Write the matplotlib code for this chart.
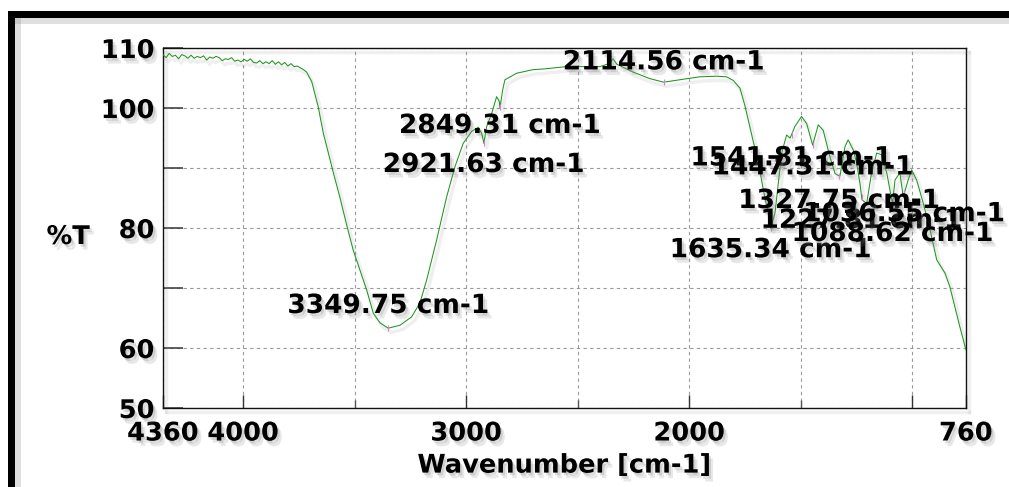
import matplotlib.pyplot as plt
import matplotlib.patheffects as pe
from matplotlib.patches import Rectangle
import numpy as np

# spectrum: wavenumber [cm-1] and %T
wn = [4360, 4346, 4332, 4318, 4304, 4290, 4276, 4262, 4248, 4234, 4220, 4206,
      4192, 4178, 4164, 4150, 4136, 4122, 4108, 4094, 4080, 4066, 4052, 4038,
      4024, 4010, 3996, 3982, 3968, 3954, 3940, 3926, 3912, 3898, 3884, 3870,
      3856, 3842, 3828, 3814, 3800, 3786, 3772, 3758, 3744, 3730,
      3716, 3693, 3664, 3641, 3596, 3566, 3537, 3507, 3477, 3447, 3417, 3387,
      3350, 3297, 3245, 3208, 3178, 3133, 3088, 3051, 3014, 2976, 2946, 2931,
      2921, 2909, 2886, 2864, 2852, 2849, 2837, 2827, 2774, 2700, 2656, 2550,
      2401, 2360, 2342, 2325, 2253, 2177, 2115, 2027, 1953, 1878, 1833, 1803,
      1773, 1751, 1736, 1714, 1691, 1669, 1646, 1635, 1616, 1601, 1586, 1564,
      1548, 1527, 1497, 1474, 1447, 1422, 1400, 1370, 1347, 1325, 1302, 1288,
      1265, 1250, 1235, 1226, 1205, 1183, 1160, 1138, 1115, 1089, 1078, 1056,
      1041, 1019, 1003, 981, 951, 921, 891, 854, 832, 809, 787, 760]
trans = [108.9, 108.4, 109.1, 108.6, 108.8, 108.2, 108.9, 108.7, 108.3, 108.8, 108.3, 108.6,
         108.4, 108.7, 108.0, 108.5, 108.3, 108.6, 108.4, 107.9, 108.2, 108.1, 108.4, 107.8,
         108.0, 107.7, 108.1, 107.8, 108.2, 107.6, 107.5, 107.9, 107.4, 107.7, 107.4, 107.9,
         107.3, 107.7, 107.2, 107.6, 107.0, 107.4, 106.9, 107.0, 106.7, 106.4,
         106.0, 104.4, 100.2, 95.8, 89.2, 85.0, 80.6, 76.3, 73.0, 69.7, 65.8, 64.2,
         63.3, 63.8, 65.2, 67.5, 71.3, 78.0, 85.2, 90.2, 94.1, 96.1, 96.8, 95.8,
         94.1, 96.9, 99.1, 101.9, 101.1, 100.0, 103.0, 104.7, 105.8, 106.4, 106.5, 106.9,
         106.9, 107.4, 108.2, 107.3, 106.0, 104.9, 104.3, 104.8, 105.2, 105.3, 105.2, 104.6,
         103.3, 100.4, 98.0, 94.5, 91.0, 86.5, 82.3, 80.0, 82.5, 87.5, 92.5, 95.5,
         95.0, 96.9, 98.6, 97.4, 93.8, 97.2, 96.3, 91.9, 89.1, 88.6, 93.6, 94.7,
         93.0, 90.8, 87.4, 84.7, 84.1, 89.2, 92.5, 92.2, 89.2, 84.0, 88.0, 89.2,
         85.2, 88.0, 89.7, 88.0, 84.1, 79.7, 74.7, 72.5, 70.2, 66.8, 63.5, 59.7]

# picked peaks and where their labels sit (%T of the label centre)
peak_wn = [3349.75, 2921.63, 2849.31, 2114.56, 1635.34, 1541.81, 1447.31,
           1327.75, 1227.81, 1036.55, 1088.62]
label_t = [67.0, 90.5, 97.0, 107.6, 76.3, 91.6, 90.1, 84.5, 81.2, 82.3, 79.0]

x_ticks = [4360, 4000, 3000, 2000, 1000, 760]
x_ticklabels = ['4360', '4000', '3000', '2000', '', '760']
y_ticks = [50, 60, 70, 80, 90, 100, 110]
y_ticklabels = ['50', '60', '', '80', '', '100', '110']

plt.rcParams['font.family'] = 'DejaVu Sans'
plt.rcParams['font.weight'] = 'bold'

shadow = [pe.SimplePatchShadow(offset=(3, -4), shadow_rgbFace='0.5', alpha=0.18),
          pe.SimplePatchShadow(offset=(1.5, -2), shadow_rgbFace='0.5', alpha=0.25),
          pe.Normal()]
line_shadow = [pe.SimpleLineShadow(offset=(2, -3), shadow_color='0.5', alpha=0.12, linewidth=2.5),
               pe.Normal()]

fig = plt.figure(figsize=(10.09, 4.87), dpi=100)
ax = fig.add_axes([0.1615, 0.1622, 0.7958, 0.7392])

ax.plot(wn, trans, color='#1e961e', lw=0.75, path_effects=line_shadow, zorder=3)
mk_t = np.interp(peak_wn, wn[::-1], trans[::-1])
ax.plot(peak_wn, mk_t, ls='none', marker='|', ms=4, mew=0.8, color='#e07be0', zorder=4)

for w, t in zip(peak_wn, label_t):
    ax.text(w, t, f'{w:.2f} cm-1', ha='center', va='center', fontsize=19,
            fontweight='bold', color='black', path_effects=shadow, zorder=5)

ax.set_xlim(4360, 760)
ax.set_ylim(50, 110)
ax.set_xticks(x_ticks)
ax.set_xticklabels(x_ticklabels)
ax.set_xticks([3500, 2500, 1500], minor=True)
ax.set_yticks(y_ticks)
ax.set_yticklabels(y_ticklabels)

ax.tick_params(axis='x', which='major', direction='in', length=9.5, width=1,
               color='#333333', labelsize=18.5, pad=9)
ax.tick_params(axis='x', which='minor', direction='in', length=6, width=1,
               color='#555555')
ax.tick_params(axis='y', direction='in', length=14.5, width=1.2,
               color='#444444', labelsize=18.5, pad=6)
for lab in ax.get_xticklabels() + ax.get_yticklabels():
    lab.set_fontweight('bold')
    lab.set_path_effects(shadow)

ax.grid(True, which='both', color='#9a9a9a', ls=(0, (3, 3)), lw=0.8)
for sp in ax.spines.values():
    sp.set_color('#111111')
    sp.set_linewidth(1.0)
    sp.set_path_effects(line_shadow)

ax.set_xlabel('Wavenumber [cm-1]', fontsize=18.5, fontweight='bold',
              path_effects=shadow)
ax.xaxis.set_label_coords(0.5, -0.16)
ax.xaxis.label.set_va('center')
ax.set_ylabel('%T', fontsize=18.5, fontweight='bold', rotation=0,
              path_effects=shadow)
ax.yaxis.set_label_coords(-0.118, 0.475)
ax.yaxis.label.set_va('center')
ax.yaxis.label.set_ha('center')

# black picture frame along the left and top, with a soft shadow inside
W, H = 1009, 487
fig.add_artist(Rectangle((15 / W, 0), 6 / W, 1 - 18 / H, transform=fig.transFigure,
                         color='0.5', alpha=0.25, lw=0))
fig.add_artist(Rectangle((15 / W, 1 - 24 / H), 1 - 15 / W, 6 / H, transform=fig.transFigure,
                         color='0.5', alpha=0.25, lw=0))
fig.add_artist(Rectangle((8 / W, 0), 7 / W, 1 - 11 / H, transform=fig.transFigure,
                         color='black', lw=0))
fig.add_artist(Rectangle((8 / W, 1 - 18 / H), 1 - 8 / W, 7 / H, transform=fig.transFigure,
                         color='black', lw=0))

fig.savefig('out.png', dpi=100)
